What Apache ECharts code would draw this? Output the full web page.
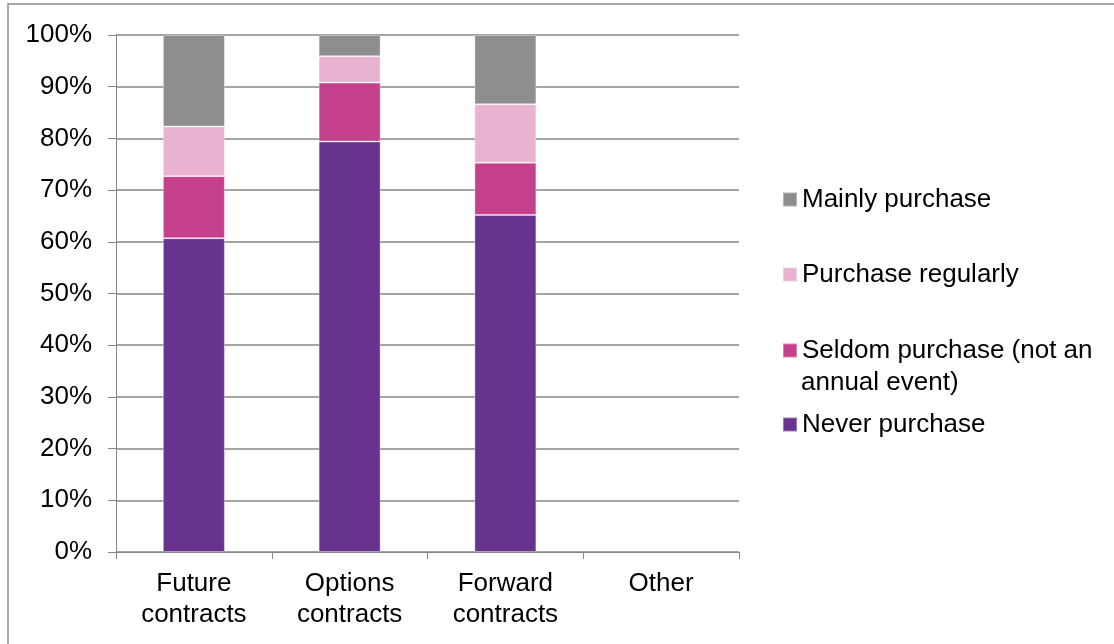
<!DOCTYPE html>
<html>
<head>
<meta charset="utf-8">
<script src="https://cdn.jsdelivr.net/npm/echarts@6/dist/echarts.min.js"></script>
<style>
  html, body { margin: 0; padding: 0; background: #ffffff; }
  #chart { width: 1114px; height: 644px; }
</style>
</head>
<body>
<div id="chart"></div>
<script>
// categories and stacked shares (percent), bottom segment first
var categories = ['Future\ncontracts', 'Options\ncontracts', 'Forward\ncontracts', 'Other'];
var neverPurchase = [60.7, 79.4, 65.2, 0];
var seldomPurchase = [12.0, 11.4, 10.1, 0];
var purchaseRegularly = [9.6, 5.1, 11.3, 0];
var mainlyPurchase = [17.7, 4.1, 13.4, 0];
var yTicks = [0, 10, 20, 30, 40, 50, 60, 70, 80, 90, 100];

var FONT = 'Liberation Sans, Arial, sans-serif';
var chart = echarts.init(document.getElementById('chart'));

function legendItem(name, top) {
  return {
    data: [name],
    orient: 'vertical',
    left: 782,
    top: top,
    padding: 0,
    itemWidth: 14,
    itemHeight: 14,
    icon: 'rect',
    selectedMode: false,
    textStyle: { fontFamily: FONT, fontSize: 26, color: '#000000', lineHeight: 31 }
  };
}

function bar(name, data, color) {
  return {
    name: name,
    type: 'bar',
    stack: 'total',
    barWidth: 62,
    // empty category draws nothing
    data: data.map(function (v) { return v === 0 ? '-' : v; }),
    itemStyle: { color: color, borderColor: 'rgba(255,255,255,0.35)', borderWidth: 1 }
  };
}

var option = {
  backgroundColor: '#ffffff',
  animation: false,
  grid: { left: 116, right: 375, top: 35, bottom: 92 },
  graphic: [
    {
      type: 'rect',
      shape: { x: 8, y: 4, width: 1200, height: 700 },
      style: { fill: 'none', stroke: '#8c8c8c', lineWidth: 1.5 }
    },
    {
      type: 'text',
      left: 801,
      top: 370,
      style: { text: 'annual event)', font: '26px ' + FONT, fill: '#000000' }
    }
  ],
  legend: [
    legendItem('Mainly purchase', 184),
    legendItem('Purchase regularly', 259),
    legendItem('Seldom purchase (not an', 335),
    legendItem('Never purchase', 409)
  ],
  xAxis: {
    type: 'category',
    data: categories,
    axisLine: { lineStyle: { color: '#868686', width: 1 } },
    axisTick: { show: true, length: 7, lineStyle: { color: '#868686' } },
    axisLabel: { fontFamily: FONT, fontSize: 26, color: '#000000', lineHeight: 31, margin: 16 }
  },
  yAxis: {
    type: 'value',
    min: 0,
    max: 100,
    interval: 10,
    axisLine: { show: true, lineStyle: { color: '#868686', width: 1 } },
    axisTick: { show: true, length: 8, lineStyle: { color: '#868686' } },
    splitLine: { lineStyle: { color: '#868686', width: 1.5 } },
    axisLabel: {
      fontFamily: FONT,
      fontSize: 26,
      color: '#000000',
      margin: 24,
      formatter: function (v) { return yTicks.indexOf(v) >= 0 ? v + '%' : ''; }
    }
  },
  series: [
    bar('Never purchase', neverPurchase, '#67338f'),
    bar('Seldom purchase (not an', seldomPurchase, '#c5418b'),
    bar('Purchase regularly', purchaseRegularly, '#e8b2d0'),
    bar('Mainly purchase', mainlyPurchase, '#8e8e8e')
  ]
};

chart.setOption(option);
</script>
</body>
</html>
